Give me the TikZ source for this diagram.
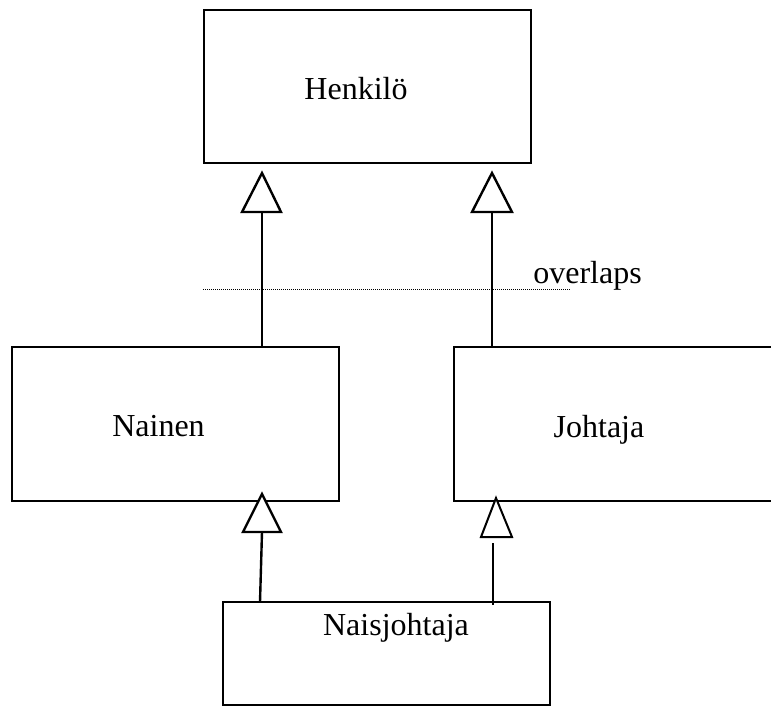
\documentclass[tikz,border=0pt]{standalone}
\usepackage{fontspec}
\setmainfont{Liberation Serif}
\begin{document}
\begin{tikzpicture}[x=1pt,y=-1pt,
  box/.style={draw,line width=2.6pt,minimum width=327pt,inner sep=0pt,anchor=center},
  lbl/.style={font=\fontsize{32}{38}\selectfont,inner sep=0pt,anchor=base},
  link/.style={line width=2.4pt},
  gen/.style={line width=2.4pt,line join=miter,fill=white}]
\clip (0,0) rectangle (771,706);
\fill[white] (0,0) rectangle (771,706);
% boxes
\node[box,minimum height=153pt] (henkilo) at (367.5,86.5) {};
\node[box,minimum height=154pt] (nainen) at (175.5,424) {};
\node[box,minimum height=154pt] (johtaja) at (617.5,424) {};
\node[box,minimum height=103pt] (naisjohtaja) at (386.5,653.5) {};
% labels
\node[lbl] (henkiloT) at (356,100) {Henkilö};
\node[lbl] (nainenT) at (158.5,436) {Nainen};
\node[lbl] (johtajaT) at (599,437) {Johtaja};
\node[lbl] (naisjohtajaT) at (396,635) {Naisjohtaja};
\node[lbl] (overlapsT) at (587.5,283) {overlaps};
% overlaps constraint line
\coordinate (dA) at (203,289);
\coordinate (dB) at (570,289);
\draw[line width=0.8pt,dash pattern=on 1pt off 1pt] (dA) -- (dB);
% generalization: Nainen -> Henkilo
\coordinate (t1) at (262,173);
\draw[gen] (t1) -- (242,212) -- (281,212) -- cycle;
\draw[link] (262,212) -- (nainen.north -| t1);
% generalization: Johtaja -> Henkilo
\coordinate (t2) at (492,173);
\draw[gen] (t2) -- (472,212) -- (512,212) -- cycle;
\draw[link] (492,212) -- (johtaja.north -| t2);
% generalization: Naisjohtaja -> Nainen
\coordinate (t3) at (262,494);
\draw[gen] (t3) -- (243,532) -- (281,532) -- cycle;
\coordinate (b3) at (260,602);
\draw[link] (262,532) -- (b3);
% generalization: Naisjohtaja -> Johtaja
\coordinate (t4) at (496,498);
\draw[gen,line width=2pt] (t4) -- (481,537) -- (512,537) -- cycle;
\coordinate (b4) at (493,605);
\draw[link] (493,543) -- (b4);
\end{tikzpicture}
\end{document}
